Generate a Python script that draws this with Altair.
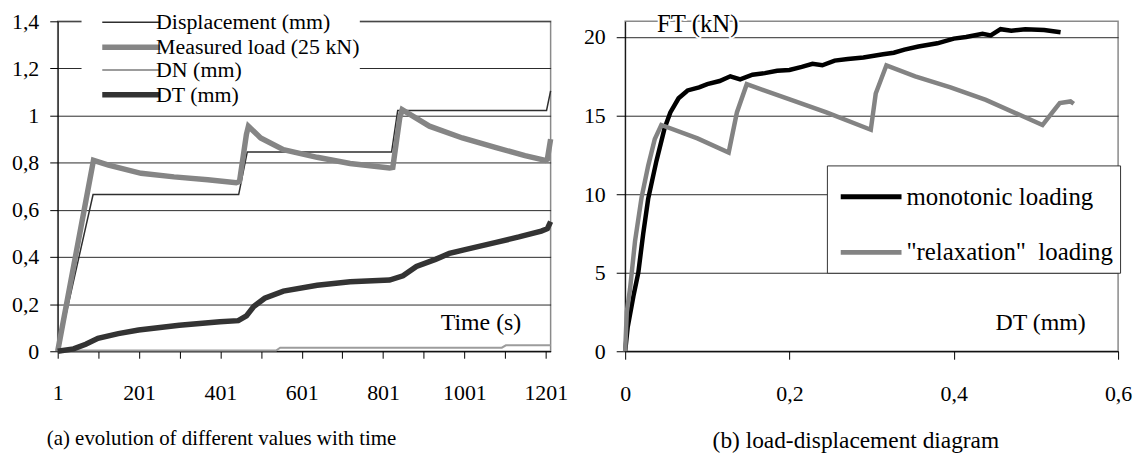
import altair as alt
import pandas as pd

FONT = "Liberation Serif, Times New Roman, serif"

# ---------------- (a) evolution of different values with time ----------------
series_names = ["Displacement (mm)", "Measured load (25 kN)", "DN (mm)", "DT (mm)"]
series_colors = ["#2e2e2e", "#858585", "#9c9c9c", "#333333"]
series_widths = [1.5, 5.5, 2, 5.5]

disp_t = [1, 88, 446, 467, 822, 837, 1203, 1213]
disp_v = [0.0, 0.665, 0.665, 0.845, 0.845, 1.022, 1.022, 1.105]

load_t = [1, 89, 126, 206, 287, 370, 440, 448, 465, 470, 500, 556, 639, 720, 817,
          825, 842, 848, 915, 996, 1079, 1150, 1200, 1205, 1213]
load_v = [0.0, 0.81, 0.79, 0.755, 0.74, 0.728, 0.715, 0.72, 0.92, 0.955, 0.905, 0.855,
          0.823, 0.797, 0.778, 0.78, 0.99, 1.025, 0.955, 0.905, 0.864, 0.83, 0.81, 0.815, 0.9]

dn_t = [1, 538, 548, 1093, 1103, 1213]
dn_v = [0.003, 0.003, 0.015, 0.015, 0.025, 0.025]

dt_t = [1, 40, 70, 100, 150, 200, 300, 400, 445, 465, 483, 510, 556, 639, 720, 817,
        850, 883, 930, 964, 1000, 1079, 1135, 1190, 1205, 1213]
dt_v = [0.0, 0.01, 0.03, 0.055, 0.075, 0.09, 0.11, 0.125, 0.13, 0.15, 0.19, 0.225,
        0.255, 0.28, 0.295, 0.302, 0.32, 0.36, 0.39, 0.415, 0.43, 0.462, 0.485, 0.51,
        0.52, 0.55]

time_ticks = list(range(1, 1202, 100))
left_y_ticks = [0, 0.2, 0.4, 0.6, 0.8, 1.0, 1.2, 1.4]

# ---------------- (b) load-displacement diagram ----------------
load_names = ["monotonic loading", "\"relaxation\"\u00a0 loading"]
load_colors = ["#000000", "#838383"]

mono_d = [0.0, 0.003, 0.01, 0.016, 0.022, 0.028, 0.038, 0.048, 0.055, 0.065, 0.076, 0.09,
          0.1, 0.115, 0.128, 0.14, 0.155, 0.17, 0.185, 0.2, 0.215, 0.228, 0.24, 0.255,
          0.271, 0.29, 0.314, 0.327, 0.34, 0.357, 0.38, 0.4, 0.415, 0.435, 0.445, 0.457,
          0.47, 0.487, 0.51, 0.53]
mono_f = [0.0, 1.5, 3.5, 5.0, 7.5, 9.7, 12.1, 14.2, 15.2, 16.1, 16.6, 16.8, 17.0, 17.2,
          17.5, 17.3, 17.6, 17.7, 17.85, 17.9, 18.1, 18.3, 18.2, 18.5, 18.6, 18.7, 18.9,
          19.0, 19.2, 19.4, 19.6, 19.9, 20.0, 20.2, 20.1, 20.5, 20.4, 20.5, 20.45, 20.3]

relax_d = [0.0, 0.002, 0.006, 0.012, 0.02, 0.028, 0.036, 0.044, 0.088, 0.126, 0.136, 0.148,
           0.202, 0.245, 0.299, 0.305, 0.318, 0.353, 0.396, 0.439, 0.482, 0.508, 0.52,
           0.529, 0.542, 0.546]
relax_f = [0.0, 2.5, 4.0, 7.0, 9.8, 11.8, 13.5, 14.4, 13.55, 12.65, 15.2, 17.0, 16.0, 15.2,
           14.1, 16.4, 18.2, 17.5, 16.8, 16.0, 15.0, 14.4, 15.2, 15.8, 15.9, 15.75]

disp_ticks = [0, 0.2, 0.4, 0.6]
force_ticks = [0, 5, 10, 15, 20]

# ---------------- tables ----------------
rows = []
for name, ts, vs in zip(series_names, [disp_t, load_t, dn_t, dt_t], [disp_v, load_v, dn_v, dt_v]):
    for t, v in zip(ts, vs):
        rows.append({"series": name, "t": t, "v": v})
left_df = pd.DataFrame(rows)

rows = []
for name, ds, fs in zip(load_names, [mono_d, relax_d], [mono_f, relax_f]):
    for d, f in zip(ds, fs):
        rows.append({"loading": name, "d": d, "f": f})
right_df = pd.DataFrame(rows)

comma_expr = "replace(format(datum.value, '.1~f'), '.', ',')"

axis_common = dict(labelFont=FONT, labelColor="black", domainColor="black",
                   tickColor="black", titleFont=FONT, titleColor="black",
                   titleFontWeight="normal", labelOverlap=False, labelFlush=False)

W, H = 496, 332

left_legend = alt.Legend(
    title=None, orient="none", legendX=24, legendY=-11,
    symbolType="M-2.65,0H2.65", symbolSize=484, symbolOffset=36,
    labelFont=FONT, labelFontSize=22, labelColor="black", labelOffset=11,
    fillColor="white", padding=0, rowPadding=0, labelLimit=400,
)

left = alt.Chart(left_df).mark_line().encode(
    x=alt.X("t:Q", scale=alt.Scale(domain=[1, 1213], nice=False, zero=False),
            axis=alt.Axis(values=time_ticks,
                          labelExpr="(datum.value - 1) % 200 == 0 ? datum.value : ''",
                          grid=False, tickSize=7, labelPadding=25, labelFontSize=22,
                          title="Time (s)", titleFontSize=24, titleX=466, titleY=-29,
                          titleAlign="right", titleBaseline="middle", **axis_common)),
    y=alt.Y("v:Q", scale=alt.Scale(domain=[0, 1.4], nice=False),
            axis=alt.Axis(values=left_y_ticks, labelExpr=comma_expr, grid=True,
                          gridColor="#2a2a2a", gridWidth=1, tickSize=8, labelPadding=11,
                          labelFontSize=22, title=None, **axis_common)),
    color=alt.Color("series:N", scale=alt.Scale(domain=series_names, range=series_colors),
                    legend=left_legend),
    strokeWidth=alt.StrokeWidth("series:N",
                                scale=alt.Scale(domain=series_names, range=series_widths,
                                                type="ordinal"),
                                legend=left_legend),
).properties(
    width=W, height=H,
    title=alt.Title("(a) evolution of different values with time", orient="bottom",
                    anchor="start", frame="group", dx=-11, offset=24, font=FONT,
                    fontSize=21, fontWeight="normal", color="black"),
)

right_lines = alt.Chart(right_df).mark_line(strokeWidth=4.5).encode(
    x=alt.X("d:Q", scale=alt.Scale(domain=[0, 0.6], nice=False),
            axis=alt.Axis(values=disp_ticks, labelExpr=comma_expr, grid=False,
                          tickSize=8, labelPadding=25, labelFontSize=22,
                          title="DT (mm)", titleFontSize=24, titleX=463, titleY=-29,
                          titleAlign="right", titleBaseline="middle", **axis_common)),
    y=alt.Y("f:Q", scale=alt.Scale(domain=[0, 21], nice=False),
            axis=alt.Axis(values=force_ticks, grid=True, gridColor="#2a2a2a",
                          gridWidth=1, tickSize=9, labelPadding=11, labelFontSize=22,
                          title=None, **axis_common)),
    color=alt.Color("loading:N", scale=alt.Scale(domain=load_names, range=load_colors),
                    legend=alt.Legend(title=None, orient="none", legendX=203, legendY=145,
                                      symbolType="M-1.39,0H1.39", symbolSize=1936,
                                      symbolStrokeWidth=5, symbolOffset=13,
                                      labelFont=FONT, labelFontSize=25, labelColor="black",
                                      labelOffset=11, fillColor="white", strokeColor="#333",
                                      padding=7, rowPadding=18, labelLimit=400)),
)

ft_label = pd.DataFrame({"label": ["FT (kN)"]})
ft_halo = alt.Chart(ft_label).mark_text(
    font=FONT, fontSize=25, align="center", baseline="alphabetic",
    stroke="white", strokeWidth=4, fill="white", strokeJoin="round",
).encode(text="label:N", x=alt.value(73), y=alt.value(11))
ft_text = alt.Chart(ft_label).mark_text(
    font=FONT, fontSize=25, align="center", baseline="alphabetic", color="black",
).encode(text="label:N", x=alt.value(73), y=alt.value(11))

right = alt.layer(right_lines, ft_halo, ft_text).properties(
    width=W, height=H,
    title=alt.Title("(b) load-displacement diagram", orient="bottom",
                    anchor="start", frame="group", dx=88, offset=24, font=FONT,
                    fontSize=23.5, fontWeight="normal", color="black"),
)

chart = alt.hconcat(left, right, spacing=14).resolve_scale(
    color="independent", strokeWidth="independent"
).resolve_legend(
    color="independent", strokeWidth="independent"
).properties(
    padding={"left": 2, "top": 0, "right": 0, "bottom": 0},
    background="white",
).configure_view(stroke="#8a8a8a", strokeWidth=1.5)

chart.save("out.html", embed_options={"renderer": "svg", "actions": False})
